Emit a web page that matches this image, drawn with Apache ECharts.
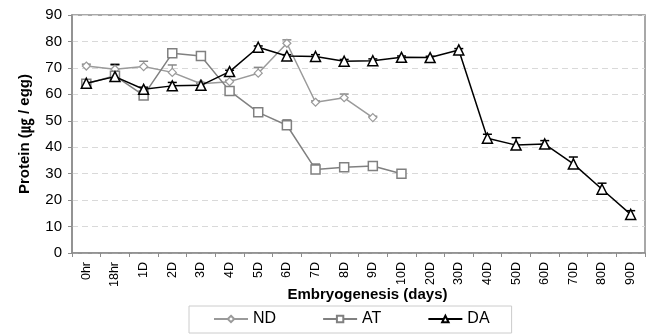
<!DOCTYPE html>
<html>
<head>
<meta charset="utf-8">
<script src="https://cdn.jsdelivr.net/npm/echarts@6/dist/echarts.min.js"></script>
<style>html,body{margin:0;padding:0;background:#fff;}#c{width:649px;height:334px;}</style>
</head>
<body>
<div id="c"></div>
<script>
const categories = ['0hr','18hr','1D','2D','3D','4D','5D','6D','7D','8D','9D','10D','20D','30D','40D','50D','60D','70D','80D','90D'];
const yTicks = [0,10,20,30,40,50,60,70,80,90];
const ndValues = [70.7, 69.5, 70.5, 68.3, 64.0, 64.8, 68.0, 79.3, 57.0, 58.7, 51.2];
const ndErrors = [0.7, 2.0, 2.0, 2.8, 0.5, 0.5, 2.2, 1.3, 0.5, 1.4, 0.5];
const atValues = [64.0, 67.0, 59.6, 75.5, 74.5, 61.3, 53.2, 48.3, 31.6, 32.4, 32.9, 30.0];
const atErrors = [0.5, 0.5, 0.5, 0.6, 0.5, 0.3, 0.3, 2.0, 2.0, 0.3, 0.5, 0.3];
const daValues = [64.2, 66.7, 61.9, 63.2, 63.4, 68.6, 77.8, 74.5, 74.3, 72.5, 72.7, 74.0, 73.9, 76.8, 43.4, 40.8, 41.2, 33.7, 24.1, 14.6];
const daErrors = [0.5, 4.5, 0.8, 1.3, 0.8, 0.5, 0.5, 0.5, 0.7, 0.7, 0.7, 0.5, 0.5, 0.5, 1.5, 2.8, 1.3, 2.6, 2.3, 1.4];

const FONT = 'Liberation Sans, Arial, sans-serif';
const ND_COLOR = '#9a9a9a';
const AT_COLOR = '#808080';
const DA_COLOR = '#000000';

function errData(vals, errs){ return vals.map((v,i)=>[i, v, errs[i]]); }
function errSeries(name, vals, errs, color){
  return {
    name: name, type: 'custom', z: 3, silent: true,
    data: errData(vals, errs),
    encode: {x: 0, y: 1},
    renderItem: function(params, api){
      const x = api.value(0), v = api.value(1), e = api.value(2);
      const p0 = api.coord([x, v]);
      const p1 = api.coord([x, v + e]);
      return {type:'group', children:[
        {type:'line', shape:{x1:p0[0], y1:p0[1], x2:p1[0], y2:p1[1]}, style:{stroke:color, lineWidth:1.2}},
        {type:'line', shape:{x1:p1[0]-4.5, y1:p1[1], x2:p1[0]+4.5, y2:p1[1]}, style:{stroke:color, lineWidth:1.5}}
      ]};
    }
  };
}

const chart = echarts.init(document.getElementById('c'), null, {renderer:'canvas'});
chart.setOption({
  animation: false,
  backgroundColor: '#fff',
  textStyle: {fontFamily: FONT},
  grid: {left: 72, right: 4, top: 15, bottom: 81, show: true, borderColor: '#8c8c8c', borderWidth: 1.5, backgroundColor: 'transparent'},
  legend: {
    data: ['ND','AT','DA'],
    left: 189, top: 306,
    padding: [5, 22, 6, 24],
    itemWidth: 34, itemHeight: 8, itemGap: 46,
    borderColor: '#cccccc', borderWidth: 1,
    textStyle: {fontFamily: FONT, fontSize: 16, color: '#000'}
  },
  xAxis: {
    type: 'category', data: categories, boundaryGap: true,
    name: 'Embryogenesis (days)', nameLocation: 'middle', nameGap: 34, nameMoveOverlap: false,
    nameTextStyle: {fontFamily: FONT, fontSize: 15, fontWeight: 'bold', color: '#000', padding: [0, 0, 0, 18]},
    axisLine: {lineStyle: {color: '#8c8c8c', width: 1.5}},
    axisTick: {show: true, length: 4, lineStyle: {color: '#8c8c8c'}},
    axisLabel: {rotate: 90, fontSize: 12.5, color: '#000', margin: 9, fontFamily: FONT, interval: 0},
    splitLine: {show: false}
  },
  yAxis: {
    type: 'value', min: yTicks[0], max: yTicks[yTicks.length-1], interval: 10,
    name: 'Protein ({k|㎍} / egg)', nameLocation: 'middle', nameGap: 40, nameRotate: 90, nameMoveOverlap: false,
    nameTextStyle: {fontFamily: FONT, fontSize: 15, fontWeight: 'bold', color: '#000',
      rich: {k: {fontFamily: 'Noto Sans CJK KR', fontSize: 15, fontWeight: 'bold', color: '#000'}}},
    axisLine: {show: true, lineStyle: {color: '#8c8c8c', width: 1.5}},
    axisTick: {show: true, length: 4, lineStyle: {color: '#8c8c8c'}},
    axisLabel: {fontSize: 15, color: '#000', margin: 10, fontFamily: FONT},
    splitLine: {show: true, lineStyle: {color: '#d9d9d9', type: [6, 4], width: 1}}
  },
  series: [
    {name:'ND', type:'line', data: ndValues, symbol:'diamond', symbolSize: 8, z: 4,
     lineStyle:{color: ND_COLOR, width: 1.5}, itemStyle:{color:'#fff', borderColor: ND_COLOR, borderWidth: 1.2}},
    {name:'AT', type:'line', data: atValues, symbol:'rect', symbolSize: 9, z: 4,
     lineStyle:{color: AT_COLOR, width: 1.5}, itemStyle:{color:'#fff', borderColor: AT_COLOR, borderWidth: 1.5}},
    {name:'DA', type:'line', data: daValues, symbol:'triangle', symbolSize: 10, z: 5,
     lineStyle:{color: DA_COLOR, width: 1.5}, itemStyle:{color:'#fff', borderColor: DA_COLOR, borderWidth: 1.5}},
    errSeries('ND err', ndValues, ndErrors, '#888'),
    errSeries('AT err', atValues, atErrors, '#666'),
    errSeries('DA err', daValues, daErrors, '#000')
  ]
});
</script>
</body>
</html>
